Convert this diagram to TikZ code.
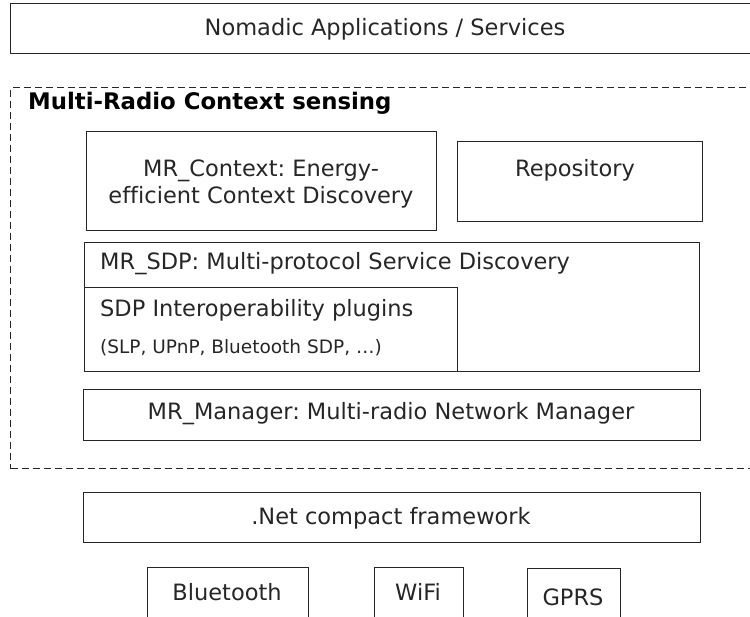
\documentclass[tikz,border=0pt]{standalone}
\usepackage{fontspec}
\setmainfont{DejaVu Sans}[Ligatures=CommonOff]
\frenchspacing
\begin{document}
\begin{tikzpicture}[x=1pt,y=-1pt,
  box/.style={draw=black!85, line width=1.1pt, inner sep=0pt, anchor=north west},
  dbox/.style={draw=black!85, line width=1.1pt, dash pattern=on 7pt off 4pt, inner sep=0pt, anchor=north west},
  txt/.style={font=\fontsize{22.5}{27}\selectfont, inner sep=0pt, text=black!85},
  btxt/.style={font=\bfseries\fontsize{22.8}{27}\selectfont, inner sep=0pt, text=black},
  stxt/.style={font=\fontsize{18.5}{21}\selectfont, inner sep=0pt, text=black!85},
]
\useasboundingbox (0,0) rectangle (750,617);
% top box
\node[box, minimum width=760pt, minimum height=50pt] (apps) at (10,3) {};
\node[txt] (appst) at (385,29) {Nomadic Applications / Services};
% dashed context sensing frame
\node[dbox, minimum width=760pt, minimum height=381pt] (mrcs) at (10,87) {};
\node[btxt, anchor=west] (mrcst) at (28,103) {Multi-Radio Context sensing};
% MR_Context
\node[box, minimum width=350pt, minimum height=99pt] (ctx) at (86,131) {};
\node[txt, align=center] (ctxt) at (261,184) {MR\_Context: Energy-\\efficient Context Discovery};
% Repository
\node[box, minimum width=245pt, minimum height=80pt] (repo) at (457,141) {};
\node[txt] (repot) at (575,170) {Repository};
% MR_SDP
\node[box, minimum width=615pt, minimum height=129pt] (sdp) at (84,242) {};
\node[txt, anchor=west] (sdpt) at (100,264) {MR\_SDP: Multi-protocol Service Discovery};
% plugins
\node[box, minimum width=373pt, minimum height=84pt] (plug) at (84,287) {};
\node[txt, anchor=west] (plugt) at (100,310) {SDP Interoperability plugins};
\node[stxt, anchor=west] (plugs) at (100,348) {(SLP, UPnP, Bluetooth SDP, \dots)};
% MR_Manager
\node[box, minimum width=617pt, minimum height=51pt] (mgr) at (83,389) {};
\node[txt] (mgrt) at (391,414) {MR\_Manager: Multi-radio Network Manager};
% .Net
\node[box, minimum width=617pt, minimum height=50pt] (net) at (83,492) {};
\node[txt] (nett) at (391,518) {.Net compact framework};
% radios
\node[box, minimum width=161pt, minimum height=60pt] (bt) at (147,567) {};
\node[txt] (btt) at (227,592) {Bluetooth};
\node[box, minimum width=89pt, minimum height=60pt] (wifi) at (374,567) {};
\node[txt] (wifit) at (418,592) {WiFi};
\node[box, minimum width=93pt, minimum height=60pt] (gprs) at (527,568) {};
\node[txt] (gprst) at (573,597) {GPRS};
\end{tikzpicture}
\end{document}
